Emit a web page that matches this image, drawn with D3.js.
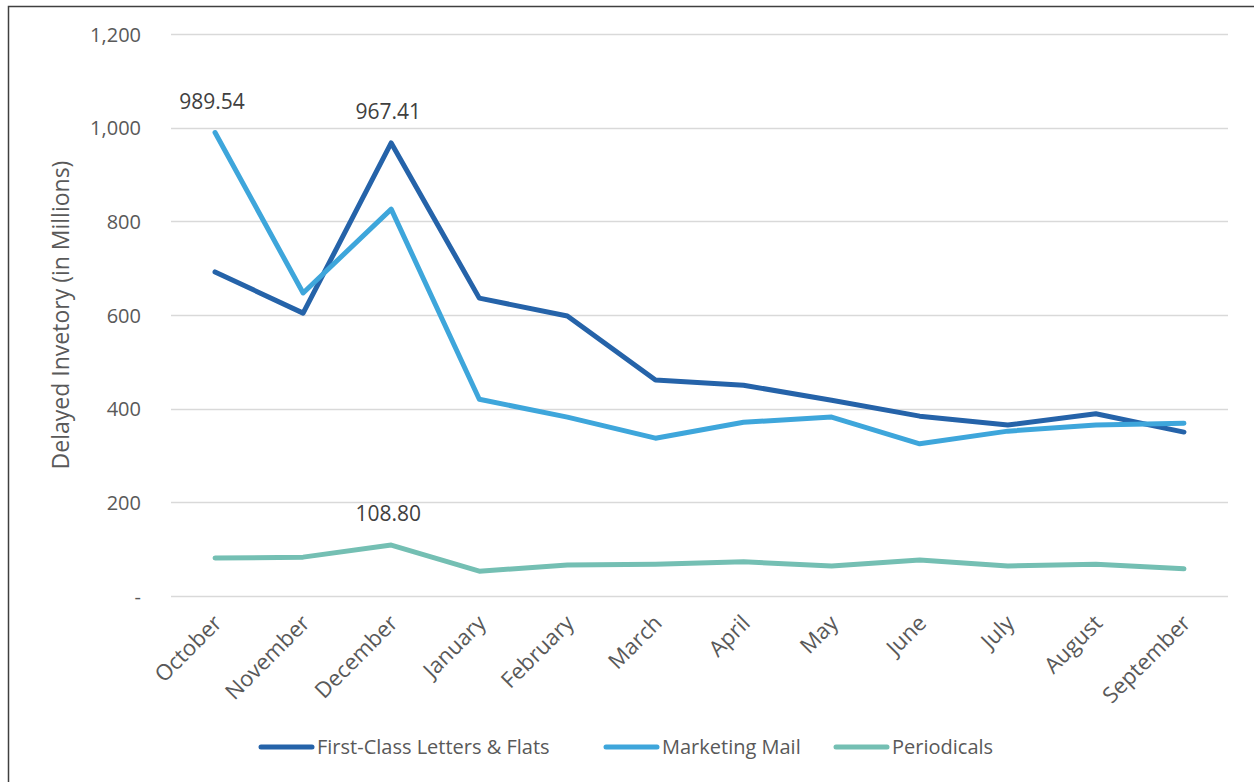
<!DOCTYPE html>
<html>
<head>
<meta charset="utf-8">
<script src="https://cdn.jsdelivr.net/npm/d3@7"></script>
<style>
  html, body { margin: 0; padding: 0; background: #fff; }
  svg { display: block; font-family: "Open Sans", "Noto Sans", sans-serif; }
</style>
</head>
<body>
<svg id="chart" width="1254" height="782"></svg>
<script>
// Months of the fiscal year
const months = ["October", "November", "December", "January", "February", "March",
  "April", "May", "June", "July", "August", "September"];

// Delayed inventory, in millions of pieces
const firstClass = [692, 604, 967.41, 636, 598, 461, 450, 418, 384, 365, 389, 350];
const marketingMail = [989.54, 647, 826, 420, 382, 337, 371, 382, 325, 352, 365, 369];
const periodicals = [81, 83, 108.80, 53, 66, 68, 73, 64, 77, 64, 68, 58];

const yTicks = [0, 200, 400, 600, 800, 1000, 1200];
const seriesNames = ["First-Class Letters & Flats", "Marketing Mail", "Periodicals"];
const seriesColors = ["#2563a9", "#3ea6db", "#74bfb3"];
const seriesValues = [firstClass, marketingMail, periodicals];

// Labelled points: [series index, month index]
const labelled = [[1, 0], [0, 2], [2, 2]];

const svg = d3.select("#chart");

// Outer frame
svg.append("path")
  .attr("d", "M8.5,782 V6.5 H1254")
  .attr("fill", "none")
  .attr("stroke", "#404040")
  .attr("stroke-width", 1.5);

const plot = { left: 171, right: 1228, top: 34, bottom: 596 };

const x = d3.scalePoint().domain(months).range([plot.left, plot.right]).padding(0.5);
const y = d3.scaleLinear().domain([0, 1200]).range([plot.bottom, plot.top]);

// Horizontal gridlines
svg.append("g")
  .selectAll("line")
  .data(yTicks)
  .join("line")
  .attr("x1", plot.left).attr("x2", plot.right)
  .attr("y1", d => Math.round(y(d)) + 0.5).attr("y2", d => Math.round(y(d)) + 0.5)
  .attr("stroke", "#d9d9d9")
  .attr("stroke-width", 1.5);

// Y axis labels
const yAxis = d3.axisLeft(y)
  .tickValues(yTicks)
  .tickSize(0)
  .tickPadding(0)
  .tickFormat(d => d === 0 ? "-" : d3.format(",")(d));

const yg = svg.append("g").attr("transform", `translate(${141},0)`).call(yAxis);
yg.select(".domain").remove();
yg.selectAll("text")
  .attr("fill", "#595959")
  .attr("font-size", 20)
  .attr("font-family", "'Open Sans', sans-serif")
  .attr("dy", "0.35em");

// Y axis title
svg.append("text")
  .attr("transform", `translate(69,${315}) rotate(-90)`)
  .attr("text-anchor", "middle")
  .attr("fill", "#595959")
  .attr("font-size", 23)
  .text("Delayed Invetory (in Millions)");

// X axis labels, rotated
const xAxis = d3.axisBottom(x).tickSize(0).tickPadding(0);
const xg = svg.append("g").attr("transform", `translate(0,${plot.bottom})`).call(xAxis);
xg.select(".domain").remove();
xg.selectAll("text")
  .attr("fill", "#595959")
  .attr("font-size", 22)
  .attr("font-family", "'Open Sans', sans-serif")
  .attr("text-anchor", "end")
  .attr("dy", "0.35em")
  .attr("transform", "translate(2,23) rotate(-45)");

// Series lines
const line = d3.line()
  .x((d, i) => x(months[i]))
  .y(d => y(d));

svg.append("g")
  .selectAll("path")
  .data(seriesValues)
  .join("path")
  .attr("d", d => line(d))
  .attr("fill", "none")
  .attr("stroke", (d, i) => seriesColors[i])
  .attr("stroke-width", 5)
  .attr("stroke-linejoin", "round")
  .attr("stroke-linecap", "round");

// Data labels
svg.append("g")
  .selectAll("text")
  .data(labelled)
  .join("text")
  .attr("x", d => x(months[d[1]]) - 3)
  .attr("y", d => y(seriesValues[d[0]][d[1]]) - 24)
  .attr("text-anchor", "middle")
  .attr("fill", "#404040")
  .attr("font-size", 21)
  .text(d => d3.format(".2f")(seriesValues[d[0]][d[1]]));

// Legend
const legendX = [259, 604, 834];
const legend = svg.append("g")
  .selectAll("g")
  .data(seriesNames)
  .join("g")
  .attr("transform", (d, i) => `translate(${legendX[i]},747)`);

legend.append("line")
  .attr("x1", 2).attr("x2", 53)
  .attr("y1", 0).attr("y2", 0)
  .attr("stroke", (d, i) => seriesColors[i])
  .attr("stroke-width", 5)
  .attr("stroke-linecap", "round");

legend.append("text")
  .attr("x", 58)
  .attr("dy", "0.35em")
  .attr("fill", "#595959")
  .attr("font-size", 20)
  .text(d => d);
</script>
</body>
</html>
